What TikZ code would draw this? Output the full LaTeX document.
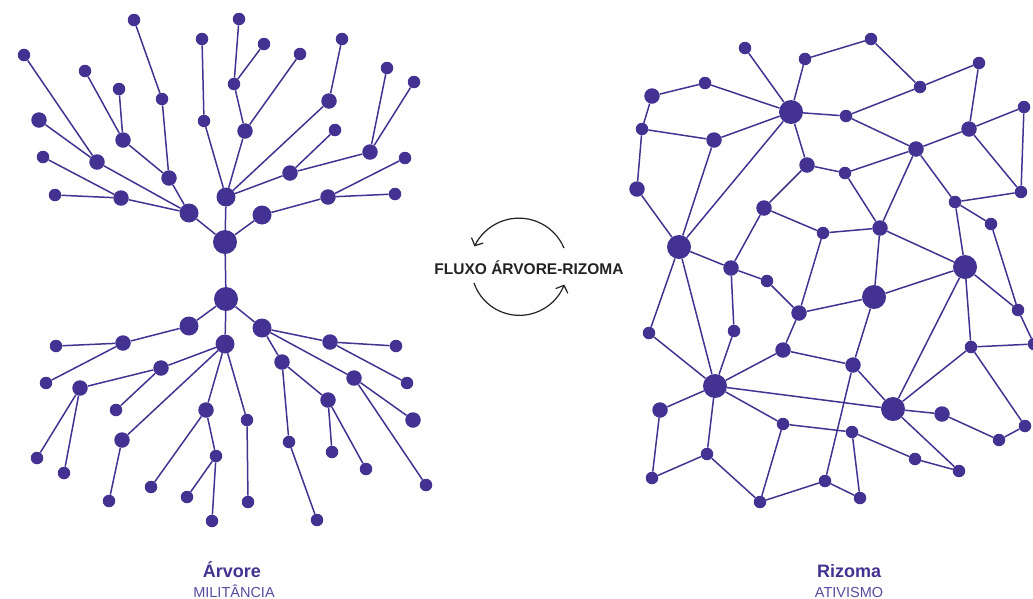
\documentclass[tikz,border=0pt]{standalone}
\usepackage{fontspec}
\setmainfont{Liberation Sans}
\usetikzlibrary{arrows.meta}
\definecolor{roxo}{RGB}{68,50,146}
\definecolor{roxoclaro}{RGB}{88,74,162}
\definecolor{tinta}{RGB}{34,34,34}
\tikzset{
	dot/.style={circle, fill=roxo, draw=none, inner sep=0pt},
	dotXL/.style={dot, minimum size=24pt},
	dotL/.style={dot, minimum size=19pt},
	dotM/.style={dot, minimum size=15.5pt},
	dotS/.style={dot, minimum size=12.5pt},
	link/.style={draw=roxo, line width=1.5pt},
	flux/.style={draw=tinta, line width=1.2pt, -{Straight Barb[length=6pt,width=13pt]}},
}
\begin{document}
\begin{tikzpicture}[x=1pt, y=-1pt]
	\useasboundingbox (0,0) rectangle (1033,598);

	\node[dotXL] (a1) at (225,242) {};
	\node[dotL] (a2) at (189,213) {};
	\node[dotL] (a3) at (226,197) {};
	\node[dotL] (a4) at (262,215) {};
	\node[dotM] (a5) at (169,178) {};
	\node[dotM] (a6) at (97,162) {};
	\node[dotM] (a7) at (121,198) {};
	\node[dotM] (a8) at (123,140) {};
	\node[dotS] (a9) at (162,99) {};
	\node[dotS] (a10) at (85,71) {};
	\node[dotS] (a11) at (119,89) {};
	\node[dotS] (a12) at (134,20) {};
	\node[dotS] (a13) at (24,55) {};
	\node[dotM] (a14) at (39,120) {};
	\node[dotS] (a15) at (43,157) {};
	\node[dotS] (a16) at (55,195) {};
	\node[dotS] (a17) at (204,121) {};
	\node[dotM] (a18) at (245,131) {};
	\node[dotM] (a19) at (329,101) {};
	\node[dotM] (a20) at (290,173) {};
	\node[dotM] (a21) at (328,197) {};
	\node[dotS] (a22) at (405,158) {};
	\node[dotS] (a23) at (395,194) {};
	\node[dotS] (a24) at (202,39) {};
	\node[dotS] (a25) at (234,84) {};
	\node[dotS] (a26) at (300,54) {};
	\node[dotS] (a27) at (239,19) {};
	\node[dotS] (a28) at (264,44) {};
	\node[dotS] (a29) at (342,39) {};
	\node[dotS] (a30) at (335,130) {};
	\node[dotM] (a31) at (370,152) {};
	\node[dotS] (a32) at (387,68) {};
	\node[dotS] (a33) at (414,82) {};

	\node[dotXL] (b1) at (226,299) {};
	\node[dotL] (b2) at (189,326) {};
	\node[dotL] (b3) at (225,344) {};
	\node[dotL] (b4) at (262,328) {};
	\node[dotM] (b5) at (123,343) {};
	\node[dotS] (b6) at (56,346) {};
	\node[dotS] (b7) at (46,383) {};
	\node[dotM] (b8) at (161,368) {};
	\node[dotM] (b9) at (122,440) {};
	\node[dotM] (b10) at (206,410) {};
	\node[dotS] (b11) at (247,420) {};
	\node[dotM] (b12) at (80,388) {};
	\node[dotS] (b13) at (116,410) {};
	\node[dotS] (b14) at (37,458) {};
	\node[dotS] (b15) at (64,473) {};
	\node[dotS] (b16) at (109,501) {};
	\node[dotS] (b17) at (151,487) {};
	\node[dotS] (b18) at (216,456) {};
	\node[dotS] (b19) at (187,497) {};
	\node[dotS] (b20) at (212,521) {};
	\node[dotS] (b21) at (248,502) {};
	\node[dotM] (b22) at (282,362) {};
	\node[dotM] (b23) at (330,342) {};
	\node[dotM] (b24) at (354,378) {};
	\node[dotS] (b25) at (289,442) {};
	\node[dotM] (b26) at (328,400) {};
	\node[dotS] (b27) at (317,520) {};
	\node[dotS] (b28) at (332,452) {};
	\node[dotS] (b29) at (366,469) {};
	\node[dotS] (b30) at (396,346) {};
	\node[dotS] (b31) at (407,383) {};
	\node[dotM] (b32) at (413,420) {};
	\node[dotS] (b33) at (426,485) {};

	\path [link] (a1) edge (a2) edge (a3) edge (a4) edge (b1);
	\path [link] (a2) edge (a5) edge (a6) edge (a7);
	\path [link] (a5) edge (a8) edge (a9);
	\path [link] (a8) edge (a10) edge (a11);
	\path [link] (a9) edge (a12);
	\path [link] (a6) edge (a13) edge (a14);
	\path [link] (a7) edge (a15) edge (a16);
	\path [link] (a3) edge (a17) edge (a18) edge (a19) edge (a20);
	\path [link] (a4) edge (a21);
	\path [link] (a21) edge (a22) edge (a23);
	\path [link] (a17) edge (a24);
	\path [link] (a18) edge (a25) edge (a26);
	\path [link] (a25) edge (a27) edge (a28);
	\path [link] (a19) edge (a29);
	\path [link] (a20) edge (a30) edge (a31);
	\path [link] (a31) edge (a32) edge (a33);

	\path [link] (b1) edge (b2) edge (b3) edge (b4);
	\path [link] (b2) edge (b5);
	\path [link] (b5) edge (b6) edge (b7);
	\path [link] (b3) edge (b8) edge (b9) edge (b10) edge (b11);
	\path [link] (b8) edge (b12) edge (b13);
	\path [link] (b12) edge (b14) edge (b15);
	\path [link] (b9) edge (b16);
	\path [link] (b10) edge (b17) edge (b18);
	\path [link] (b18) edge (b19) edge (b20);
	\path [link] (b11) edge (b21);
	\path [link] (b4) edge (b22) edge (b23) edge (b24);
	\path [link] (b22) edge (b25) edge (b26);
	\path [link] (b25) edge (b27);
	\path [link] (b26) edge (b28) edge (b29);
	\path [link] (b23) edge (b30) edge (b31);
	\path [link] (b24) edge (b32) edge (b33);

	\node[dotS] (r1) at (745,48) {};
	\node[dotS] (r2) at (805,59) {};
	\node[dotS] (r3) at (871,39) {};
	\node[dotS] (r4) at (979,63) {};
	\node[dotS] (r5) at (920,87) {};
	\node[dotS] (r6) at (705,83) {};
	\node[dotM] (r7) at (652,96) {};
	\node[dotXL] (r8) at (791,112) {};
	\node[dotS] (r9) at (846,116) {};
	\node[dotS] (r10) at (642,129) {};
	\node[dotM] (r11) at (714,140) {};
	\node[dotM] (r12) at (969,129) {};
	\node[dotS] (r13) at (1024,107) {};
	\node[dotM] (r14) at (916,149) {};
	\node[dotM] (r15) at (807,165) {};
	\node[dotS] (r16) at (845,173) {};
	\node[dotM] (r17) at (637,189) {};
	\node[dotS] (r18) at (1021,192) {};
	\node[dotS] (r19) at (955,202) {};
	\node[dotM] (r20) at (764,208) {};
	\node[dotS] (r21) at (991,224) {};
	\node[dotS] (r22) at (823,233) {};
	\node[dotM] (r23) at (880,228) {};
	\node[dotXL] (r24) at (679,247) {};
	\node[dotXL] (r25) at (965,267) {};
	\node[dotM] (r26) at (731,268) {};
	\node[dotS] (r27) at (767,281) {};
	\node[dotXL] (r28) at (874,297) {};
	\node[dotM] (r29) at (799,313) {};
	\node[dotS] (r30) at (1018,310) {};
	\node[dotS] (r31) at (649,333) {};
	\node[dotS] (r32) at (734,331) {};
	\node[dotM] (r33) at (783,350) {};
	\node[dotS] (r34) at (971,347) {};
	\node[dotS] (r35) at (1034,344) {};
	\node[dotM] (r36) at (853,365) {};
	\node[dotXL] (r37) at (715,386) {};
	\node[dotM] (r38) at (660,410) {};
	\node[dotXL] (r39) at (893,409) {};
	\node[dotM] (r40) at (942,414) {};
	\node[dotS] (r41) at (783,424) {};
	\node[dotS] (r42) at (852,432) {};
	\node[dotS] (r43) at (1025,426) {};
	\node[dotS] (r44) at (999,440) {};
	\node[dotS] (r45) at (707,454) {};
	\node[dotS] (r46) at (915,459) {};
	\node[dotS] (r47) at (959,471) {};
	\node[dotS] (r48) at (652,478) {};
	\node[dotS] (r49) at (825,481) {};
	\node[dotS] (r50) at (860,498) {};
	\node[dotS] (r51) at (760,502) {};

	\path [link] (r1) edge (r8);
	\path [link] (r2) edge (r8) edge (r3);
	\path [link] (r3) edge (r5);
	\path [link] (r5) edge (r4) edge (r9);
	\path [link] (r4) edge (r12);
	\path [link] (r6) edge (r7) edge (r8);
	\path [link] (r7) edge (r10);
	\path [link] (r10) edge (r11) edge (r17);
	\path [link] (r11) edge (r8) edge (r24);
	\path [link] (r8) edge (r9) edge (r24) edge (r15);
	\path [link] (r9) edge (r14);
	\path [link] (r12) edge (r13) edge (r14) edge (r18);
	\path [link] (r13) edge (r18);
	\path [link] (r14) edge (r16) edge (r19) edge (r23);
	\path [link] (r15) edge (r16) edge (r20);
	\path [link] (r16) edge (r23);
	\path [link] (r19) edge (r18) edge (r21) edge (r25);
	\path [link] (r20) edge (r22) edge (r26);
	\path [link] (r22) edge (r23) edge (r29);
	\path [link] (r23) edge (r25) edge (r28);
	\path [link] (r24) edge (r17) edge (r26) edge (r31) edge (r37);
	\path [link] (r21) edge (r30);
	\path [link] (r25) edge (r28) edge (r39) edge (r34) edge (r30);
	\path [link] (r26) edge (r27) edge (r32);
	\path [link] (r27) edge (r29);
	\path [link] (r29) edge (r33) edge (r28);
	\path [link] (r30) edge (r35);
	\path [link] (r28) edge (r36);
	\path [link] (r32) edge (r37);
	\path [link] (r33) edge (r37) edge (r36);
	\path [link] (r34) edge (r35) edge (r39) edge (r43);
	\path [link] (r36) edge (r39) edge (r49);
	\path [link] (r37) edge (r31) edge (r38) edge (r39) edge (r41) edge (r45);
	\path [link] (r38) edge (r48);
	\path [link] (r45) edge (r48) edge (r51);
	\path [link] (r41) edge (r42) edge (r51);
	\path [link] (r42) edge (r46) edge (r50);
	\path [link] (r46) edge (r47);
	\path [link] (r39) edge (r40) edge (r47);
	\path [link] (r40) edge (r44);
	\path [link] (r44) edge (r43);
	\path [link] (r49) edge (r50) edge (r51);

	\node[anchor=base, text=tinta, font=\fontsize{15.5}{17}\selectfont\bfseries] (fluxo) at (529,274) {FLUXO ÁRVORE-RIZOMA};
	\coordinate (f1) at (564,248);
	\coordinate (f2) at (474,283);
	\draw [flux] (f1) arc[start angle=23, end angle=155, radius=49pt];
	\draw [flux] (f2) arc[start angle=199, end angle=339, radius=48pt];

	\node[anchor=base, text=roxo, font=\fontsize{18}{20}\selectfont\bfseries] (arvore) at (232,577) {Árvore};
	\node[anchor=base, text=roxoclaro, font=\fontsize{14.5}{16}\selectfont] (militancia) at (234,597) {MILITÂNCIA};
	\node[anchor=base, text=roxo, font=\fontsize{18}{20}\selectfont\bfseries] (rizoma) at (849,577) {Rizoma};
	\node[anchor=base, text=roxoclaro, font=\fontsize{14.5}{16}\selectfont] (ativismo) at (849,597) {ATIVISMO};
\end{tikzpicture}
\end{document}
